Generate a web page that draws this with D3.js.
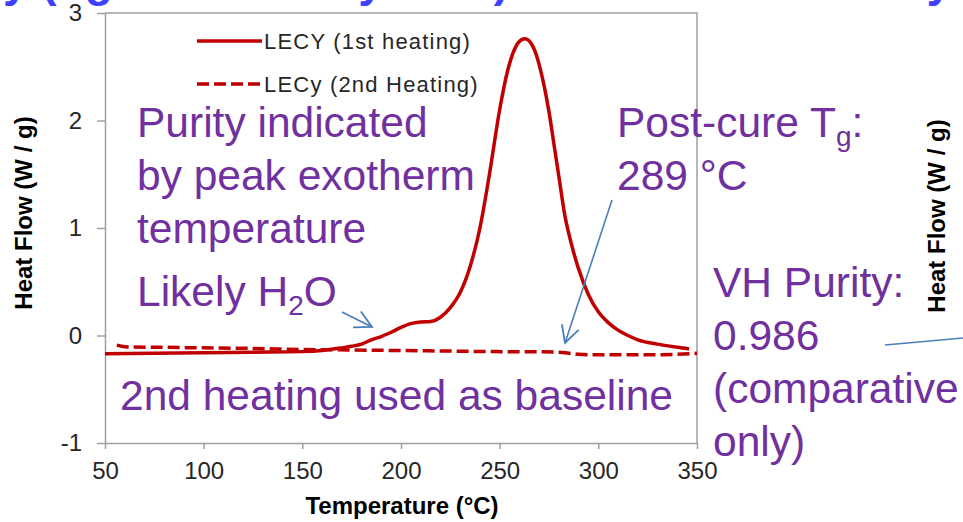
<!DOCTYPE html>
<html><head><meta charset="utf-8">
<script src="https://cdn.jsdelivr.net/npm/d3@7"></script>
<style>
html,body{margin:0;padding:0;background:#fff;overflow:hidden;}
svg{display:block;font-family:"Liberation Sans",Arial,sans-serif;}
</style></head><body>
<svg id="chart" width="963" height="522"></svg>
<script>
// DSC heat flow traces for LECy
const temperatureFirst = [50, 75, 100, 125, 150, 160, 170, 175, 180, 185, 190, 195, 200, 205, 210, 215, 220, 225, 230, 235, 240, 245, 250, 254, 258, 261, 263, 265, 268, 270, 273, 275, 278, 280, 283, 285, 290, 295, 300, 305, 310, 315, 320, 330, 340, 346];
const heatFlowFirst    = [-0.17, -0.165, -0.16, -0.155, -0.15, -0.14, -0.115, -0.10, -0.08, -0.04, -0.01, 0.03, 0.075, 0.11, 0.125, 0.13, 0.17, 0.26, 0.40, 0.64, 1.00, 1.52, 2.10, 2.46, 2.68, 2.75, 2.76, 2.74, 2.64, 2.52, 2.28, 2.08, 1.72, 1.48, 1.12, 0.95, 0.62, 0.38, 0.22, 0.12, 0.05, 0.0, -0.04, -0.08, -0.11, -0.125];

const temperatureSecond = [56, 60, 80, 100, 125, 150, 175, 200, 225, 250, 270, 280, 285, 290, 300, 320, 340, 350];
const heatFlowSecond    = [-0.09, -0.105, -0.11, -0.115, -0.12, -0.13, -0.135, -0.14, -0.145, -0.15, -0.15, -0.155, -0.165, -0.175, -0.18, -0.18, -0.175, -0.165];

const xTicks = [50, 100, 150, 200, 250, 300, 350];
const yTicks = [-1, 0, 1, 2, 3];
const legendLabels = ["LECY (1st heating)", "LECy (2nd Heating)"];

const red = "#c00000";
const purple = "#7030a0";
const arrowBlue = "#4a7ebb";
const axisGray = "#a0a0a0";
const dash = "12,5";

const svg = d3.select("#chart");

// slide title fragments along the top edge
const title = svg.append("text")
  .attr("y", -4)
  .attr("fill", "#3f3fff")
  .attr("font-size", 46)
  .attr("font-weight", "bold")
  .text("LECy (Tg and cure by DSC)");
const prefixWidth = title.node().getSubStringLength(0, 3);
title.attr("x", 3 - prefixWidth);
svg.append("text")
  .attr("x", 952).attr("y", -4)
  .attr("text-anchor", "end")
  .attr("fill", "#3f3fff")
  .attr("font-size", 46)
  .attr("font-weight", "bold")
  .text("VH Purity");

const x = d3.scaleLinear().domain([50, 350]).range([105, 697]);
const y = d3.scaleLinear().domain([-1, 3]).range([443, 13]);

// plot frame (top and right)
svg.append("path")
  .attr("d", `M${x(50)},${y(3)}H${x(350)}V${y(-1)}`)
  .attr("fill", "none")
  .attr("stroke", axisGray)
  .attr("stroke-width", 1.5);

// axes
const yAxis = svg.append("g")
  .attr("transform", `translate(${x(50)},0)`)
  .call(d3.axisLeft(y).tickValues(yTicks).tickFormat(d => String(d))
    .tickSize(8).tickSizeOuter(0).tickPadding(15));
const xAxis = svg.append("g")
  .attr("transform", `translate(0,${y(-1)})`)
  .call(d3.axisBottom(x).tickValues(xTicks).tickFormat(d => String(d))
    .tickSize(6).tickSizeOuter(0).tickPadding(13));
[xAxis, yAxis].forEach(g => {
  g.select(".domain").attr("stroke", axisGray).attr("stroke-width", 1.5);
  g.selectAll(".tick line").attr("stroke", axisGray).attr("stroke-width", 1.5);
  g.selectAll(".tick text")
    .attr("font-size", 24)
    .attr("font-family", "'Liberation Sans',Arial,sans-serif")
    .attr("fill", "#262626");
});

// axis titles
svg.append("text")
  .attr("transform", "translate(32,213) rotate(-90)")
  .attr("text-anchor", "middle")
  .attr("font-size", 24).attr("font-weight", "bold")
  .text("Heat Flow (W / g)");
svg.append("text")
  .attr("x", 402).attr("y", 514)
  .attr("text-anchor", "middle")
  .attr("font-size", 24).attr("font-weight", "bold")
  .text("Temperature (°C)");
svg.append("text")
  .attr("transform", "translate(945,216) rotate(-90)")
  .attr("text-anchor", "middle")
  .attr("font-size", 24).attr("font-weight", "bold")
  .text("Heat Flow (W / g)");

// traces
const first = temperatureFirst.map((t, i) => [t, heatFlowFirst[i]]);
const second = temperatureSecond.map((t, i) => [t, heatFlowSecond[i]]);
const line = d3.line().x(d => x(d[0])).y(d => y(d[1])).curve(d3.curveMonotoneX);

svg.append("path")
  .attr("d", line(second))
  .attr("fill", "none")
  .attr("stroke", red)
  .attr("stroke-width", 3.5)
  .attr("stroke-dasharray", dash);
svg.append("path")
  .attr("d", line(first))
  .attr("fill", "none")
  .attr("stroke", red)
  .attr("stroke-width", 3.5)
  .attr("stroke-linejoin", "round");

// legend
const legend = svg.append("g");
legendLabels.forEach((label, i) => {
  const ly = 41 + i * 43;
  legend.append("line")
    .attr("x1", 197).attr("x2", 262).attr("y1", ly).attr("y2", ly)
    .attr("stroke", red).attr("stroke-width", 3.5)
    .attr("stroke-dasharray", i === 1 ? dash : null);
  legend.append("text")
    .attr("x", 264).attr("y", ly + 8)
    .attr("font-size", 22)
    .attr("letter-spacing", 1.2)
    .attr("fill", "#262626")
    .text(label);
});

// annotations
const note = (xp, yp, parts) => {
  const t = svg.append("text")
    .attr("x", xp).attr("y", yp)
    .attr("font-size", 42.5)
    .attr("fill", purple);
  parts.forEach(p => {
    const s = t.append("tspan").text(p.text);
    if (p.sub) s.attr("font-size", 28).attr("dy", 9);
    if (p.after) s.attr("dy", -9);
  });
};
note(137, 137, [{text: "Purity indicated"}]);
note(137, 190, [{text: "by peak exotherm"}]);
note(137, 243, [{text: "temperature"}]);
note(137, 306, [{text: "Likely H"}, {text: "2", sub: true}, {text: "O", after: true}]);
note(617, 137, [{text: "Post-cure T"}, {text: "g", sub: true}, {text: ":", after: true}]);
note(617, 190, [{text: "289 °C"}]);
note(713, 297, [{text: "VH Purity:"}]);
note(713, 350, [{text: "0.986"}]);
note(713, 403, [{text: "(comparative"}]);
note(713, 456, [{text: "only)"}]);
note(120, 410, [{text: "2nd heating used as baseline"}]);

// pointer arrows
const arrow = (x1, y1, x2, y2, head) => {
  svg.append("line")
    .attr("x1", x1).attr("y1", y1).attr("x2", x2).attr("y2", y2)
    .attr("stroke", arrowBlue).attr("stroke-width", 1.6);
  if (!head) return;
  const a = Math.atan2(y2 - y1, x2 - x1);
  const len = 19, spread = Math.PI / 6.5;
  const p = d3.path();
  p.moveTo(x2 - len * Math.cos(a - spread), y2 - len * Math.sin(a - spread));
  p.lineTo(x2, y2);
  p.lineTo(x2 - len * Math.cos(a + spread), y2 - len * Math.sin(a + spread));
  svg.append("path")
    .attr("d", p.toString())
    .attr("fill", "none")
    .attr("stroke", arrowBlue).attr("stroke-width", 1.8)
    .attr("stroke-linejoin", "miter");
};
arrow(342, 312, 372, 327, true);
arrow(612, 200, 565, 343, true);
arrow(885, 345, 963, 338, false);
</script>
</body></html>
